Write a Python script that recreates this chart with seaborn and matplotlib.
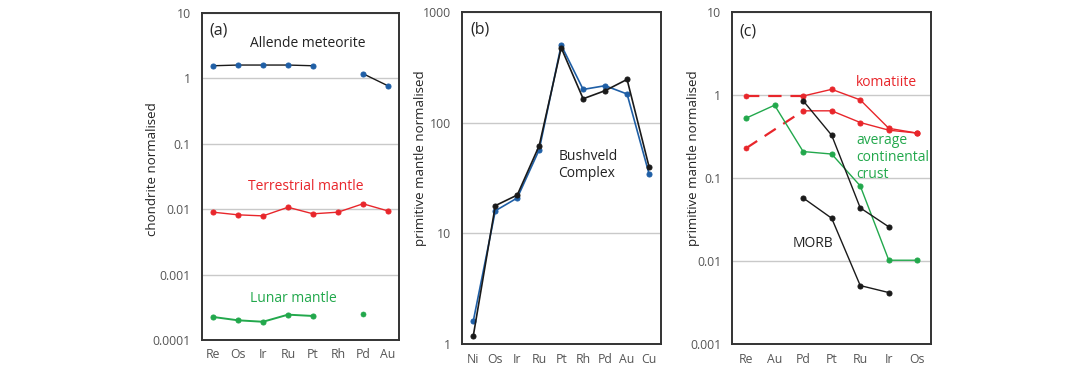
import numpy as np
import seaborn as sns
import matplotlib.pyplot as plt

sns.set_style("white")
plt.rcParams['font.family'] = ['Open Sans', 'DejaVu Sans']

nan = np.nan

# (a) chondrite normalised
elems_a = ['Re', 'Os', 'Ir', 'Ru', 'Pt', 'Rh', 'Pd', 'Au']
allende = [1.56, 1.6, 1.6, 1.6, 1.56, nan, 1.18, 0.77]
terrestrial = [0.0090, 0.0082, 0.0079, 0.0107, 0.0085, 0.0090, 0.0121, 0.0094]
lunar = [0.000225, 0.0002, 0.00019, 0.000244, 0.000233, nan, 0.000252, nan]

# (b) Bushveld Complex, primitive mantle normalised
elems_b = ['Ni', 'Os', 'Ir', 'Ru', 'Pt', 'Rh', 'Pd', 'Au', 'Cu']
bushveld_blue = [1.63, 16, 20.9, 57, 500, 199, 215, 181, 34.5]
bushveld_black = [1.2, 17.8, 22.2, 62, 473, 164, 194, 245, 40]

# (c) primitive mantle normalised
elems_c = ['Re', 'Au', 'Pd', 'Pt', 'Ru', 'Ir', 'Os']
komatiite_1 = [nan, nan, 0.98, 1.18, 0.88, 0.40, 0.35]
komatiite_1_dash = [0.98, nan, 0.98, nan, nan, nan, nan]
komatiite_2 = [nan, nan, 0.65, 0.65, 0.47, 0.38, 0.35]
komatiite_2_dash = [0.23, nan, 0.65, nan, nan, nan, nan]
crust = [0.53, 0.76, 0.21, 0.196, 0.081, 0.0103, 0.0103]
morb_1 = [nan, nan, 0.86, 0.33, 0.044, 0.026, nan]
morb_2 = [nan, nan, 0.058, 0.033, 0.0051, 0.0042, nan]

BLUE = '#1f5fa6'
RED = '#e8262b'
GREEN = '#22a84c'
BLACK = '#1a1a1a'
MS = 3.6


def draw(ax, vals, color, lw=1.0, ls='-', ms=MS, marker=True, bridge=False):
    # draw contiguous runs as lines, isolated points as dots
    # bridge=True joins the points across gaps (dashed links)
    vals = np.asarray(vals, dtype=float)
    x = np.arange(len(vals))
    ok = ~np.isnan(vals)
    if bridge:
        runs = [list(x[ok])]
    else:
        runs, cur = [], []
        for i in range(len(vals)):
            if ok[i]:
                cur.append(i)
            elif cur:
                runs.append(cur); cur = []
        if cur:
            runs.append(cur)
    for r in runs:
        if len(r) > 1:
            sns.lineplot(x=x[r], y=vals[r], ax=ax, color=color, lw=lw, ls=ls,
                         marker='o' if marker else None, ms=ms, mec=color,
                         sort=False, estimator=None)
        elif marker:
            sns.scatterplot(x=x[r], y=vals[r], ax=ax, color=color, s=ms ** 2,
                            edgecolor=color, linewidth=0.5)


def style(ax, labels, ylim, yticks, yticklabels, ylabel, pad, lab_xy):
    ax.set_yscale('log')
    ax.set_ylim(*ylim)
    ax.set_xlim(-pad, len(labels) - 1 + pad)
    ax.set_xticks(range(len(labels)))
    ax.set_xticklabels(labels)
    ax.set_yticks(yticks)
    ax.set_yticklabels(yticklabels)
    ax.minorticks_off()
    ax.yaxis.grid(True, color='#c9c9c9', lw=1.0)
    ax.xaxis.grid(False)
    ax.tick_params(axis='both', length=0, labelsize=8.8, colors='#555555')
    ax.tick_params(axis='y', pad=8)
    ax.tick_params(axis='x', pad=6)
    for s in ax.spines.values():
        s.set_color('#333333')
        s.set_linewidth(1.4)
    ax.set_ylabel(ylabel, fontsize=9.5, color='#222222')
    ax.yaxis.set_label_coords(*lab_xy)
    ax.set_xlabel('')


fig = plt.figure(figsize=(10.79, 3.68), dpi=100)
ax_a = fig.add_axes([0.187, 0.0761, 0.183, 0.8886])
ax_b = fig.add_axes([0.4279, 0.0644, 0.1844, 0.9038])
ax_c = fig.add_axes([0.6787, 0.0644, 0.1842, 0.9022])

# panel (a)
draw(ax_a, allende, BLACK, marker=False)
draw(ax_a, allende, BLUE, lw=0)
draw(ax_a, terrestrial, RED)
draw(ax_a, lunar, GREEN, lw=1.4)
style(ax_a, elems_a, (1e-4, 10), [1e-4, 1e-3, 1e-2, 0.1, 1, 10],
      ['0.0001', '0.001', '0.01', '0.1', '1', '10'], 'chondrite normalised', 0.45,
      (-0.215, 0.524))
ax_a.text(0.04, 0.97, '(a)', transform=ax_a.transAxes, fontsize=11.5, va='top')
ax_a.text(0.539, 0.93, 'Allende meteorite', transform=ax_a.transAxes, fontsize=10,
          ha='center', va='top', color='#222222')
ax_a.text(0.529, 0.492, 'Terrestrial mantle', transform=ax_a.transAxes, fontsize=10,
          ha='center', va='top', color=RED)
ax_a.text(0.464, 0.151, 'Lunar mantle', transform=ax_a.transAxes, fontsize=10,
          ha='center', va='top', color=GREEN)

# panel (b)
draw(ax_b, bushveld_blue, BLUE, lw=1.2)
draw(ax_b, bushveld_black, BLACK, lw=1.2)
style(ax_b, elems_b, (1, 1000), [1, 10, 100, 1000], ['1', '10', '100', '1000'],
      'primitive mantle normalised', 0.53, (-0.175, 0.559))
ax_b.text(0.042, 0.97, '(b)', transform=ax_b.transAxes, fontsize=11.5, va='top')
ax_b.text(0.485, 0.588, 'Bushveld\nComplex', transform=ax_b.transAxes, fontsize=10,
          ha='left', va='top', color='#222222', linespacing=1.2)

# panel (c)
draw(ax_c, komatiite_1_dash, RED, lw=1.6, ls=(0, (6, 4)), marker=False, bridge=True)
draw(ax_c, komatiite_2_dash, RED, lw=1.6, ls=(0, (6, 4)), marker=False, bridge=True)
draw(ax_c, [0.98, nan, nan, nan, nan, nan, nan], RED)
draw(ax_c, [0.23, nan, nan, nan, nan, nan, nan], RED)
draw(ax_c, komatiite_1, RED)
draw(ax_c, komatiite_2, RED)
draw(ax_c, crust, GREEN)
draw(ax_c, morb_1, BLACK)
draw(ax_c, morb_2, BLACK)
style(ax_c, elems_c, (1e-3, 10), [1e-3, 1e-2, 0.1, 1, 10],
      ['0.001', '0.01', '0.1', '1', '10'], 'primitive mantle normalised', 0.48,
      (-0.165, 0.56))
ax_c.text(0.034, 0.965, '(c)', transform=ax_c.transAxes, fontsize=11.5, va='top')
ax_c.text(0.623, 0.81, 'komatiite', transform=ax_c.transAxes, fontsize=10,
          va='top', color=RED)
ax_c.text(0.623, 0.637, 'average\ncontinental\ncrust', transform=ax_c.transAxes,
          fontsize=10, va='top', color=GREEN, linespacing=1.2)
ax_c.text(0.305, 0.325, 'MORB', transform=ax_c.transAxes, fontsize=10,
          va='top', color='#222222')

fig.savefig('out.png', dpi=100)
